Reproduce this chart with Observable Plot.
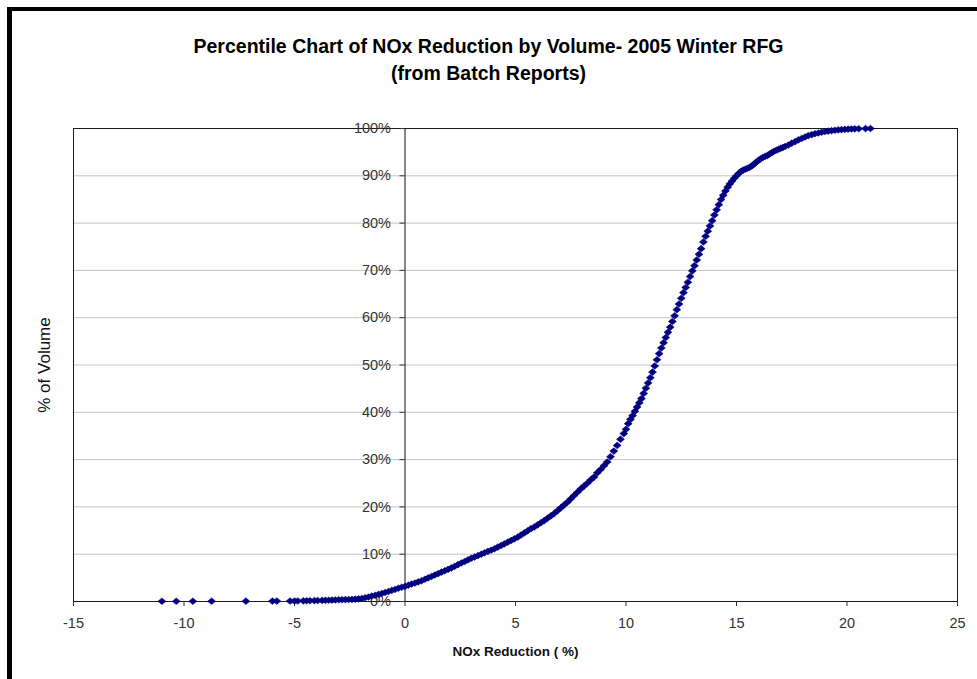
<!DOCTYPE html>
<html>
<head>
<meta charset="utf-8">
<script src="https://cdn.jsdelivr.net/npm/d3@7"></script>
<script src="https://cdn.jsdelivr.net/npm/@observablehq/plot@0.6"></script>
<style>
  html, body { margin: 0; padding: 0; background: #ffffff; }
  #wrap { position: relative; width: 977px; height: 679px; overflow: hidden; background: #fefefe; font-family: "Liberation Sans", Arial, sans-serif; }
  #border { position: absolute; left: 7px; top: 7px; right: -10px; bottom: -10px; border-left: 5px solid #000; border-top: 4px solid #000; pointer-events: none; }
  #title { position: absolute; left: 0; top: 33px; width: 977px; text-align: center; font-weight: bold; font-size: 19.5px; line-height: 27px; color: #000; }
  #chart { position: absolute; left: 0; top: 0; }
</style>
</head>
<body>
<div id="wrap">
  <div id="chart"></div>
  <div id="title"></div>
  <div id="border"></div>
</div>
<script>
const titleLines = ["Percentile Chart of NOx Reduction by Volume- 2005 Winter RFG", "(from Batch Reports)"];
const xLabel = "NOx Reduction ( %)";
const yLabel = "% of Volume";
const xTicks = [-15, -10, -5, 0, 5, 10, 15, 20, 25];
const yTicks = [0, 10, 20, 30, 40, 50, 60, 70, 80, 90, 100];

// NOx reduction (%) of each batch
const nox = [
  -11.0, -10.35, -9.6, -8.75, -7.2, -6.0, -5.8, -5.2, -5.0, -4.85,
  -4.6, -4.45, -4.3, -4.1, -3.95, -3.75, -3.6, -3.45, -3.3, -3.15,
  -3.0, -2.85, -2.7, -2.55, -2.4, -2.25, -2.1, -1.95, -1.8, -1.65,
  -1.5, -1.35, -1.2, -1.05, -0.9, -0.75, -0.6, -0.45, -0.3, -0.15,
  0.0, 0.15, 0.3, 0.45, 0.6, 0.75, 0.9, 1.05, 1.2, 1.35,
  1.5, 1.65, 1.8, 1.95, 2.1, 2.25, 2.4, 2.55, 2.7, 2.85,
  3.0, 3.15, 3.3, 3.45, 3.6, 3.75, 3.9, 4.05, 4.2, 4.35,
  4.5, 4.65, 4.8, 4.95, 5.1, 5.25, 5.4, 5.55, 5.7, 5.85,
  6.0, 6.15, 6.3, 6.45, 6.6, 6.75, 6.9, 7.05, 7.2, 7.35,
  7.5, 7.65, 7.8, 7.95, 8.1, 8.25, 8.4, 8.55, 8.7, 8.85,
  9.0, 9.15, 9.3, 9.45, 9.6, 9.75, 9.9, 10.0, 10.1, 10.2,
  10.3, 10.4, 10.5, 10.6, 10.7, 10.8, 10.9, 11.0, 11.1, 11.2,
  11.3, 11.4, 11.5, 11.6, 11.7, 11.8, 11.9, 12.0, 12.1, 12.2,
  12.3, 12.4, 12.5, 12.6, 12.7, 12.8, 12.9, 13.0, 13.1, 13.2,
  13.3, 13.4, 13.5, 13.6, 13.7, 13.8, 13.9, 14.0, 14.1, 14.2,
  14.3, 14.4, 14.5, 14.6, 14.7, 14.8, 14.9, 15.0, 15.1, 15.2,
  15.3, 15.4, 15.5, 15.6, 15.7, 15.8, 15.9, 16.0, 16.1, 16.2,
  16.3, 16.4, 16.5, 16.6, 16.7, 16.8, 16.9, 17.0, 17.1, 17.2,
  17.35, 17.5, 17.65, 17.8, 17.95, 18.1, 18.25, 18.4, 18.55, 18.7,
  18.85, 19.0, 19.15, 19.3, 19.45, 19.6, 19.75, 19.9, 20.05, 20.2,
  20.35, 20.53, 20.84, 21.06
];
// Cumulative % of volume at each batch
const volumePct = [
  0.05, 0.05, 0.06, 0.06, 0.07, 0.08, 0.08, 0.09, 0.1, 0.12,
  0.14, 0.15, 0.17, 0.19, 0.2, 0.23, 0.25, 0.28, 0.3, 0.33,
  0.36, 0.38, 0.4, 0.42, 0.45, 0.5, 0.55, 0.65, 0.8, 0.95,
  1.15, 1.3, 1.5, 1.7, 1.9, 2.1, 2.35, 2.55, 2.8, 3.0,
  3.2, 3.45, 3.7, 3.9, 4.15, 4.4, 4.7, 5.0, 5.3, 5.6,
  5.9, 6.2, 6.5, 6.8, 7.1, 7.45, 7.8, 8.15, 8.45, 8.8,
  9.15, 9.4, 9.7, 10.0, 10.3, 10.6, 10.85, 11.15, 11.5, 11.85,
  12.2, 12.55, 12.9, 13.25, 13.6, 14.05, 14.5, 14.95, 15.4, 15.75,
  16.2, 16.65, 17.1, 17.6, 18.1, 18.6, 19.2, 19.8, 20.4, 21.0,
  21.7, 22.4, 23.1, 23.8, 24.4, 25.0, 25.7, 26.3, 27.2, 27.9,
  28.7, 29.5, 30.6, 31.8, 33.0, 34.3, 35.5, 36.4, 37.6, 38.5,
  39.3, 40.2, 41.1, 42.0, 42.9, 44.0, 45.1, 46.2, 47.3, 48.5,
  49.8, 51.1, 52.4, 53.6, 54.7, 55.8, 56.9, 58.0, 59.2, 60.4,
  61.7, 62.9, 64.1, 65.3, 66.4, 67.5, 68.7, 69.9, 71.0, 72.2,
  73.4, 74.6, 76.0, 77.2, 78.3, 79.4, 80.5, 81.7, 82.8, 83.9,
  85.0, 85.9, 86.8, 87.6, 88.3, 88.9, 89.5, 90.0, 90.5, 90.9,
  91.2, 91.4, 91.6, 91.8, 92.1, 92.5, 92.9, 93.3, 93.6, 93.9,
  94.1, 94.3, 94.6, 94.9, 95.2, 95.4, 95.6, 95.8, 96.0, 96.2,
  96.5, 96.9, 97.2, 97.6, 97.9, 98.2, 98.5, 98.7, 98.9, 99.05,
  99.2, 99.35, 99.45, 99.55, 99.62, 99.7, 99.76, 99.82, 99.86, 99.9,
  99.93, 99.96, 99.98, 100
];

const points = nox.map((x, i) => ({x, y: volumePct[i]}));
document.getElementById("title").innerHTML = titleLines.join("<br>");

// Excel-style diamond marker: a rhombus slightly wider than tall
const rhombus = {
  draw(context, size) {
    const r = Math.sqrt(size / Math.PI);
    const hw = r * 1.2, hh = r;
    context.moveTo(0, -hh);
    context.lineTo(hw, 0);
    context.lineTo(0, hh);
    context.lineTo(-hw, 0);
    context.closePath();
  }
};

const base = {
  width: 977,
  height: 679,
  marginLeft: 73,
  marginRight: 20,
  marginTop: 128,
  marginBottom: 78,
  x: {domain: [xTicks[0], xTicks[xTicks.length - 1]]},
  y: {domain: [yTicks[0], yTicks[yTicks.length - 1]]},
  style: {fontFamily: "'Liberation Sans', Arial, sans-serif", fontSize: "14.5px", color: "#333", background: "transparent", overflow: "visible"}
};

// probe to find where x = 0 lands, so the y axis can sit there
const probe = Plot.plot({...base, marks: [Plot.dot(points, {x: "x", y: "y"})]});
const xs = probe.scale("x");
const yAxisShift = xs.apply(0) - xs.apply(xTicks[0]);

const chart = Plot.plot({
  ...base,
  marks: [
    Plot.ruleY(yTicks.slice(1, -1), {stroke: "#c4c4c4", strokeWidth: 1}),
    Plot.frame({stroke: "#1a1a1a"}),
    Plot.ruleX([0], {stroke: "#111"}),
    Plot.axisX({ticks: xTicks, tickFormat: d => String(d), tickSize: 5, tickPadding: 11, label: null, stroke: "#333", fill: "#333"}),
    Plot.axisY({ticks: yTicks, tickFormat: d => d + "%", anchor: "left", dx: yAxisShift, tickSize: 5, tickPadding: 9, label: null, stroke: "#333", fill: "#333"}),
    Plot.text([xLabel], {frameAnchor: "bottom", dy: 50, text: d => d, fontWeight: "bold", fontSize: 13.5, fill: "#111", lineAnchor: "middle"}),
    Plot.text([yLabel], {frameAnchor: "left", dx: -29, rotate: -90, text: d => d, fontSize: 17, fill: "#111", textAnchor: "middle", lineAnchor: "middle"}),
    Plot.dot(points, {x: "x", y: "y", symbol: rhombus, r: 3.3, fill: "#000080", stroke: "#000080", strokeWidth: 0.6})
  ]
});
document.getElementById("chart").appendChild(chart);
</script>
</body>
</html>
